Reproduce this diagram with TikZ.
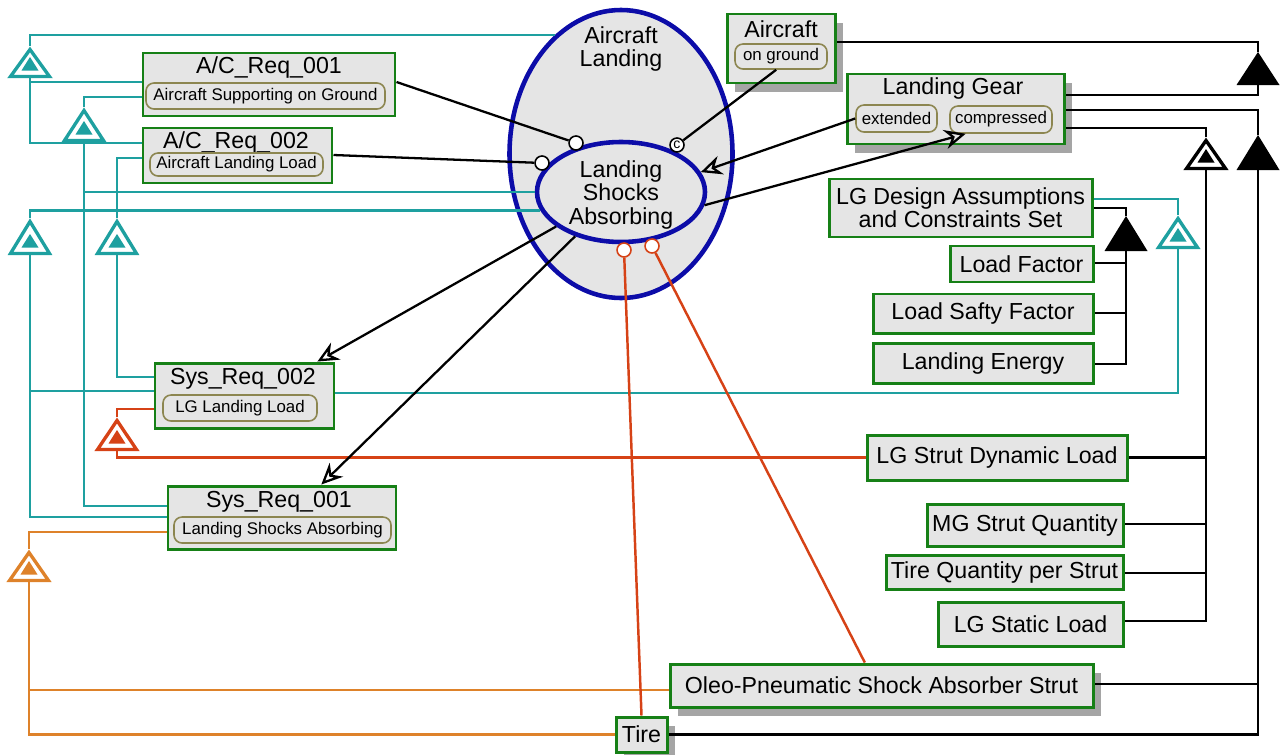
\documentclass[tikz,border=0pt]{standalone}
\usepackage{fontspec}
\setmainfont{Liberation Sans}
\usetikzlibrary{shapes.geometric,shadows,arrows.meta,calc}

\definecolor{tealc}{RGB}{30,160,160}
\definecolor{redc}{RGB}{214,66,22}
\definecolor{orangec}{RGB}{222,130,42}
\definecolor{boxgreen}{RGB}{22,128,22}
\definecolor{boxfill}{RGB}{229,229,229}
\definecolor{pillline}{RGB}{140,134,80}
\definecolor{ellblue}{RGB}{12,12,168}
\definecolor{shgray}{RGB}{165,165,165}

\newcommand{\pxu}{0.02cm}
\newcommand{\tfnt}{\fontsize{13.2}{13.2}\selectfont}
\newcommand{\pfnt}{\fontsize{9.6}{10}\selectfont}

% hollow derivation marker: outlined triangle with a small solid one inside
\newcommand{\derivemark}[5]{%
  \coordinate (#1-a) at (#2,#3);
  \coordinate (#1-b) at (#2,#4);
  \draw[draw=#5, fill=white, line width=1.9pt, line join=miter]
    (#2-19.5,#4-1.5) -- (#2+19.5,#4-1.5) -- (#2,#3+3.5) -- cycle;
  \fill[#5] (#2-8.5,#4-7.5) -- (#2+8.5,#4-7.5) -- (#2,#4-21) -- cycle;
}
% solid derivation marker
\newcommand{\solidmark}[5]{%
  \coordinate (#1-a) at (#2,#3);
  \coordinate (#1-b) at (#2,#4);
  \fill[#5] (#2-21.5,#4) -- (#2+21.5,#4) -- (#2,#3) -- cycle;
}

\begin{document}
\begin{tikzpicture}[x=0.02cm, y=-0.02cm,
  span/.style n args={4}{at={({(#1+#3)/2},{(#2+#4)/2})},
    minimum width={(#3-#1)*0.02cm}, minimum height={(#4-#2)*0.02cm}},
  box/.style={rectangle, draw=boxgreen, fill=boxfill, line width=1.7pt, inner sep=0pt, font=\tfnt, align=center},
  shbox/.style={box, drop shadow={shadow xshift=0.16cm, shadow yshift=-0.18cm, fill=shgray, opacity=1}},
  pill/.style={rectangle, draw=pillline, fill=boxfill, line width=0.9pt, rounded corners=0.16cm, inner sep=0pt, font=\pfnt},
  title/.style={inner sep=0pt, font=\tfnt, align=center},
  usecase/.style={ellipse, draw=ellblue, fill=boxfill, line width=2.6pt, inner sep=0pt},
  marker/.style={circle, draw=black, fill=white, line width=0.9pt, minimum size=14*\pxu, inner sep=0pt},
  blk/.style={draw=black, line width=1.3pt},
  arr/.style={-{Stealth[open, length=12pt, width=11pt, inset=4pt]}},
  tealline/.style={draw=tealc, line width=1.5pt},
  redline/.style={draw=redc, line width=1.4pt},
  orline/.style={draw=orangec, line width=1.4pt},
  bline/.style={draw=black, line width=1.3pt}]
\useasboundingbox (0,0) rectangle (1284,754);

% use cases
\node[usecase, minimum width=223*\pxu, minimum height=288*\pxu] (al) at (621,154) {};
\node[title] (alt) at (621,49) {Aircraft\\Landing};
\node[usecase, minimum width=168*\pxu, minimum height=100*\pxu] (lsa) at (621,192) {};
\node[title] (lsat) at (621,195) {Landing\\Shocks\\Absorbing};

% requirement blocks
\node[box, span={143}{53}{395}{116}] (ac1) {};
\node[title] (ac1t) at (269,68) {A/C\_Req\_001};
\node[pill, span={146}{83}{385}{109}] (ac1p) {Aircraft Supporting on Ground};

\node[box, span={143}{128}{332}{183}] (ac2) {};
\node[title] (ac2t) at (236,142) {A/C\_Req\_002};
\node[pill, span={150}{153}{323}{176}] (ac2p) {Aircraft Landing Load};

\node[box, span={155}{363}{334}{428}] (sys2) {};
\node[title] (sys2t) at (243,379) {Sys\_Req\_002};
\node[pill, span={163}{395}{317}{421}] (sys2p) {LG Landing Load};

\node[box, span={168}{486}{396}{549}] (sys1) {};
\node[title] (sys1t) at (279,502) {Sys\_Req\_001};
\node[pill, span={174}{517}{391}{543}] (sys1p) {Landing Shocks Absorbing};

% states
\node[shbox, span={727}{14}{835}{83}] (acft) {};
\node[title] (acftt) at (781,29) {Aircraft};
\node[pill, span={735}{44}{827}{69}] (ong) {on ground};

\node[shbox, span={847}{74}{1064}{144}] (lg) {};
\node[title] (lgt) at (953,89) {Landing Gear};
\node[pill, span={856}{105}{937}{132}] (ext) {extended};
\node[pill, span={950}{106}{1052}{133}] (cmp) {compressed};

% parameters
\node[box, span={829}{179}{1092}{237}] (lgd) {LG Design Assumptions\\and Constraints Set};
\node[box, span={950}{246}{1093}{282}] (lf) {Load Factor};
\node[box, span={873}{294}{1093}{333}] (lsf) {Load Safty Factor};
\node[box, span={873}{343}{1093}{383}] (le) {Landing Energy};
\node[box, span={867}{435}{1127}{480}] (lgsd) {LG Strut Dynamic Load};
\node[box, span={927}{504}{1123}{546}] (mgs) {MG Strut Quantity};
\node[box, span={886}{555}{1123}{589}] (tqs) {Tire Quantity per Strut};
\node[box, span={938}{602}{1123}{646}] (lgs) {LG Static Load};
\node[shbox, span={670}{664}{1093}{707}] (oleo) {Oleo-Pneumatic Shock Absorber Strut};
\node[shbox, span={616}{717}{667}{752}] (tire) {Tire};

% derivation markers
\derivemark{t1}{30}{46}{78}{tealc}
\derivemark{t2}{84}{107}{142}{tealc}
\derivemark{t3}{30}{218}{255}{tealc}
\derivemark{t4}{117}{218}{255}{tealc}
\derivemark{t5}{1178}{215}{249}{tealc}
\derivemark{rd}{117}{417}{451}{redc}
\derivemark{od}{29}{549}{582}{orangec}
\solidmark{b1}{1258}{52}{85}{black}
\solidmark{b2}{1258}{135}{170}{black}
\derivemark{b3}{1206}{137}{170}{black}
\solidmark{b4}{1126}{216}{251}{black}

% teal derivations
\draw[tealline] (t1-a) |- (al.119.6);
\draw[tealline] (t1-b) |- (ac1.west |- 0,82);
\draw[tealline] (t1-b) |- (ac2.west |- 0,143);
\draw[tealline] (t2-a) |- (ac1.west |- 0,97);
\draw[tealline] (t2-b) |- (lsa.west);
\draw[tealline] (t2-b) |- (sys1.west |- 0,506);
\draw[tealline] (t3-a) |- (lsa.193);
\draw[tealline] (t3-b) |- (sys2.west |- 0,391);
\draw[tealline] (t3-b) |- (sys1.west |- 0,517);
\draw[tealline] (t4-a) |- (ac2.west |- 0,158);
\draw[tealline] (t4-b) |- (sys2.west |- 0,377);
\draw[tealline] (t5-a) |- (lgd.east |- 0,199);
\draw[tealline] (t5-b) |- (sys2.east |- 0,393);

% red and orange derivations
\draw[redline] (rd-a) |- (sys2.west |- 0,409);
\draw[redline] (rd-b) |- (lgsd.west);
\draw[orline] (od-a) |- (sys1.west |- 0,532);
\draw[orline] (od-b) |- (oleo.west |- 0,690);
\draw[orline] (od-b) |- (tire.west);

% black derivations
\draw[bline] (b1-a) |- (acft.east |- 0,42);
\draw[bline] (b1-b) |- (lg.east |- 0,95);
\draw[bline] (b2-a) |- (lg.east |- 0,110);
\draw[bline] (b2-b) |- (oleo.east |- 0,684);
\draw[bline] (b2-b) |- (tire.east);
\draw[bline] (b3-a) |- (lg.east |- 0,128);
\draw[bline] (b3-b) |- (lgsd.east);
\draw[bline] (b3-b) |- (mgs.east |- 0,524);
\draw[bline] (b3-b) |- (tqs.east |- 0,573);
\draw[bline] (b3-b) |- (lgs.east |- 0,621);
\draw[bline] (b4-a) |- (lgd.east |- 0,208);
\draw[bline] (b4-b) |- (lf.east |- 0,263);
\draw[bline] (b4-b) |- (lsf.east |- 0,313);
\draw[bline] (b4-b) |- (le.east |- 0,364);

% ports on the use case
\node[marker] (c1) at (576,143) {};
\node[marker] (c2) at (542,163) {};
\node[marker, font=\fontsize{8}{8}\selectfont] (c3) at (677,145) {c};
\node[marker, draw=redc] (rc1) at (624,250) {};
\node[marker, draw=redc] (rc2) at (652,246) {};

% associations
\draw[blk] (ac1.east |- 0,82) -- (c1);
\draw[blk] (ac2.east |- 0,155) -- (c2);
\draw[blk] (ong.250) -- (c3);
\draw[blk, arr] (ext.west) -- (lsa.14);
\draw[blk, arr] (lsa.-9) -- (cmp.202);
\draw[blk, arr] (lsa.208) -- (sys2.25);
\draw[blk, arr] (lsa.224) -- (sys1.40);
\draw[redline] (rc1) -- (tire.north);
\draw[redline] (rc2) -- (oleo.126);
\end{tikzpicture}
\end{document}
